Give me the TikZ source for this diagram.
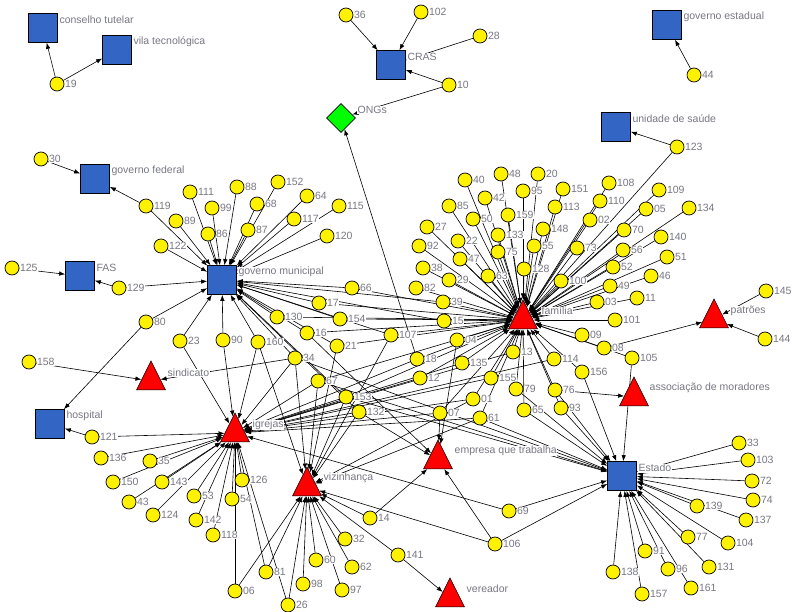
\documentclass[tikz,border=0pt]{standalone}
\usepackage{fontspec}
\setmainfont{Liberation Sans}
\usetikzlibrary{shapes.geometric,arrows.meta,backgrounds}
\definecolor{instblue}{RGB}{51,102,196}
\definecolor{lblgray}{RGB}{120,120,132}
\tikzset{actor/.style={circle,draw=black,fill=yellow,minimum size=14pt,inner sep=0pt,line width=0.7pt},
        inst/.style={rectangle,draw=black,fill=instblue,minimum size=29pt,inner sep=0pt,line width=0.7pt},
        grp/.style={isosceles triangle,isosceles triangle stretches,shape border rotate=90,draw=black,fill=red,
        minimum width=29pt,minimum height=29pt,inner sep=0pt,line width=0.5pt},
        ngo/.style={diamond,draw=black,fill=green,minimum width=29pt,minimum height=29pt,inner sep=0pt,line width=0.7pt},
        lbl/.style={text=lblgray,font=\fontsize{10.5}{12}\selectfont,fill=white,inner sep=0.5pt,anchor=west},
        link/.style={-{Latex[length=6pt,width=4.5pt]},line width=0.6pt}}

\begin{document}
\begin{tikzpicture}[x=1pt,y=-1pt]
\useasboundingbox (0,0) rectangle (792,612);

% institutions
\node[inst] (ct) at (43,28) {};
\node[inst] (vt) at (117,50) {};
\node[inst] (gf) at (95,179) {};
\node[inst] (fas) at (80,276) {};
\node[inst] (gm) at (222,280) {};
\node[inst] (hosp) at (50,424) {};
\node[inst] (cras) at (391,65) {};
\node[inst] (ge) at (667,25) {};
\node[inst] (us) at (616,127) {};
\node[inst] (est) at (622,476) {};
\node[ngo] (ongs) at (341,118) {};
\node[grp] (fam) at (523,320) {};
\node[grp] (igr) at (235,433) {};
\node[grp] (viz) at (307,487) {};
\node[grp] (emp) at (438,460) {};
\node[grp] (sin) at (151,381) {};
\node[grp] (pat) at (714,319) {};
\node[grp] (ass) at (634,397) {};
\node[grp] (ver) at (450,598) {};

\node[lbl] (ct-l) at ([shift={(1,7)}]ct.north east) {conselho tutelar};
\node[lbl] (vt-l) at ([shift={(1,7)}]vt.north east) {vila tecnológica};
\node[lbl] (gf-l) at ([shift={(1,7)}]gf.north east) {governo federal};
\node[lbl] (fas-l) at ([shift={(1,7)}]fas.north east) {FAS};
\node[lbl] (gm-l) at ([shift={(1,7)}]gm.north east) {governo municipal};
\node[lbl] (hosp-l) at ([shift={(1,7)}]hosp.north east) {hospital};
\node[lbl] (cras-l) at ([shift={(1,7)}]cras.north east) {CRAS};
\node[lbl] (ge-l) at ([shift={(1,7)}]ge.north east) {governo estadual};
\node[lbl] (us-l) at ([shift={(1,7)}]us.north east) {unidade de saúde};
\node[lbl] (est-l) at ([shift={(1,7)}]est.north east) {Estado};
\node[lbl] (ongs-l) at (357,110) {ONGs};
\node[lbl] (fam-l) at (541,311) {família};
\node[lbl] (igr-l) at (252,425) {igrejas};
\node[lbl] (viz-l) at (323,478) {vizinhança};
\node[lbl] (emp-l) at (454,451) {empresa que trabalha};
\node[lbl] (sin-l) at (167,373) {sindicato};
\node[lbl] (pat-l) at (730,311) {patrões};
\node[lbl] (ass-l) at (649,388) {associação de moradores};
\node[lbl] (ver-l) at (466,589) {vereador};

% respondents
\foreach \n/\x/\y in {19/57/84, 30/41/159, 36/346/15, 102/421/12, 28/480/36, 10/449/85, 44/694/75, 123/677/147,
  111/190/192, 88/237/187, 119/146/206, 89/176/221, 99/212/208, 86/208/234, 87/248/230, 68/257/204,
  152/278/182, 64/307/196, 117/294/219, 115/339/206, 120/327/236, 122/161/246,
  125/12/268, 129/119/288, 80/146/322, 23/180/341, 90/223/340, 160/258/342, 158/29/362, 121/92/437,
  66/352/288, 17/319/303, 130/277/317, 154/340/319, 16/307/333, 21/337/346, 34/295/358, 107/391/335,
  67/318/381, 153/346/397, 132/359/412,
  39/443/302, 15/444/321, 04/457/340, 18/417/359, 12/420/378, 135/462/363, 13/513/352, 155/491/378,
  01/473/399, 07/440/413, 61/480/418, 79/516/389, 65/524/410,
  114/554/359, 76/555/390, 93/561/408, 156/582/372, 09/582/335, 08/604/348, 105/632/358, 101/615/320,
  03/597/302, 11/637/298, 145/766/291, 144/765/339,
  40/465/180, 48/501/174, 85/449/206, 42/485/198, 50/473/219, 159/508/215, 133/498/235, 27/427/227,
  22/458/241, 92/419/246, 75/498/252, 47/460/259, 38/423/268, 29/449/280, 63/488/276, 82/416/288,
  95/523/191, 20/538/174, 151/563/189, 113/555/207, 148/543/229, 55/534/246, 128/524/269,
  108/609/183, 110/600/201, 02/590/220, 73/577/248, 70/624/230, 05/646/209, 109/659/190, 134/689/208,
  140/661/237, 56/623/250, 51/667/257, 52/613/267, 46/651/276, 49/610/286, 100/561/281,
  136/101/458, 35/150/461, 150/113/482, 143/162/482, 43/129/502, 53/194/496, 54/232/499, 126/242/480,
  124/153/515, 142/196/520, 118/213/535, 06/235/591,
  81/266/572, 26/288/605, 98/303/584, 60/316/560, 97/342/590, 62/352/567, 32/345/539, 14/370/518,
  141/398/555, 69/509/511, 106/495/544,
  33/739/443, 103/748/460, 72/752/481, 74/753/500, 139/697/506, 137/746/520, 77/688/537, 104/728/543,
  91/645/551, 131/709/567, 138/613/572, 96/668/569, 161/691/588, 157/642/594}
{
  \node[actor] (a\n) at (\x,\y) {};
  \node[lbl] (l\n) at (a\n.east) {\n};
}

\begin{scope}[on background layer]
\fill[white] (0,0) rectangle (792,612);
% ties
\foreach \s/\t in {19/ct, 19/vt, 30/gf, 119/gf, 119/gm, 125/fas, 129/fas, 129/gm, 80/hosp, 80/gm,
  121/hosp, 121/igr, 158/sin, 34/sin, 36/cras, 102/cras, 28/cras, 10/cras, 10/ongs, 18/ongs,
  44/ge, 123/us, 123/fam, 145/pat, 144/pat, 08/pat, 08/fam, 105/est, 105/fam, 76/ass, 76/fam, 76/est,
  111/gm, 88/gm, 99/gm, 86/gm, 87/gm, 68/gm, 152/gm, 64/gm, 117/gm, 115/gm, 120/gm, 89/gm, 122/gm,
  90/gm, 90/igr, 23/gm, 23/igr, 160/gm, 160/igr, 160/viz,
  66/gm, 66/fam, 17/gm, 17/fam, 154/gm, 154/fam, 130/gm, 130/fam, 16/gm, 16/fam, 16/emp,
  21/gm, 21/viz, 21/fam, 34/gm, 34/igr, 34/viz, 34/est, 107/gm, 107/fam, 107/viz,
  15/fam, 15/gm, 39/fam, 39/gm, 12/fam, 12/igr, 18/fam, 18/igr, 04/fam, 04/emp,
  135/fam, 135/igr, 13/fam, 13/igr, 155/fam, 155/igr, 01/fam, 01/igr, 01/viz,
  61/fam, 61/igr, 61/viz, 61/est, 07/fam, 07/igr, 07/emp, 67/igr, 67/viz, 67/fam, 67/est,
  153/igr, 153/viz, 153/fam, 153/gm, 153/est, 132/igr, 132/viz, 132/emp, 132/gm,
  79/fam, 79/est, 65/fam, 65/est, 114/fam, 114/igr, 156/est, 156/fam, 93/est, 93/fam, 09/fam, 101/fam,
  69/igr, 69/est, 106/viz, 106/emp, 106/est, 14/viz, 14/emp, 141/viz, 141/ver,
  136/igr, 35/igr, 150/igr, 143/igr, 43/igr, 53/igr, 54/igr, 126/igr, 124/igr, 142/igr, 118/igr,
  06/igr, 06/viz, 81/igr, 81/viz, 26/igr, 26/viz, 32/viz, 60/viz, 62/viz, 97/viz, 98/viz,
  33/est, 103/est, 72/est, 74/est, 139/est, 137/est, 77/est, 104/est, 91/est, 131/est, 138/est,
  96/est, 161/est, 157/est,
  40/fam, 48/fam, 85/fam, 42/fam, 50/fam, 159/fam, 133/fam, 27/fam, 22/fam, 92/fam, 75/fam, 47/fam,
  38/fam, 29/fam, 63/fam, 82/fam, 95/fam, 20/fam, 151/fam, 113/fam, 148/fam, 55/fam, 128/fam,
  108/fam, 110/fam, 02/fam, 73/fam, 70/fam, 05/fam, 109/fam, 134/fam, 140/fam, 56/fam, 51/fam,
  52/fam, 46/fam, 49/fam, 11/fam, 100/fam, 03/fam}
  \draw[link] (a\s) -- (\t);
\end{scope}
\end{tikzpicture}
\end{document}
